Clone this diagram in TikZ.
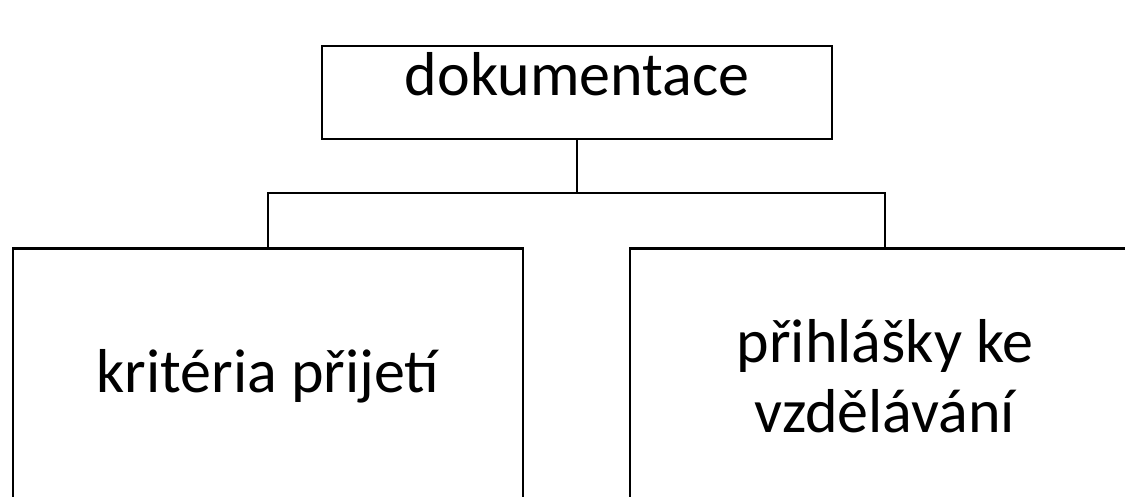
\documentclass[tikz,border=0pt]{standalone}
\usepackage{fontspec}
\setmainfont{Carlito}
\usetikzlibrary{positioning}

\tikzset{
  box/.style={draw, line width=1.3pt, align=center, font=\fontsize{31}{35}\selectfont,
    minimum width=255pt, minimum height=127.5pt, inner sep=0pt},
  link/.style={draw, line width=1.3pt}
}

\begin{document}
\begin{tikzpicture}[x=0.5pt, y=-0.5pt]
  \useasboundingbox (0,0) rectangle (1125,497);
  \clip (0,0) rectangle (1125,497);

  \node[box, minimum height=46.5pt, text depth=19pt] (doc) at (577,92.5) {dokumentace};
  \node[box, anchor=north] (krit) at (268,247) {kritéria přijetí};
  \node[box, anchor=north] (prihl) at (885,247) {přihlášky ke\\vzdělávání};

  \coordinate (fork) at (577,193);
  \draw[link] (doc.south) -- (fork);
  \draw[link] (fork) -| (krit.north);
  \draw[link] (fork) -| (prihl.north);
\end{tikzpicture}
\end{document}
